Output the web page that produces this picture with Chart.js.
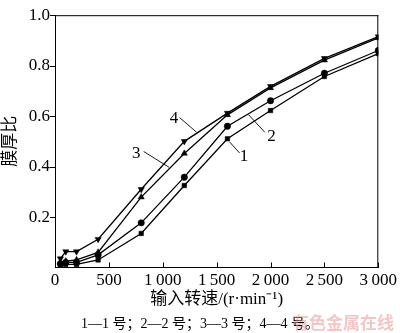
<!DOCTYPE html>
<html>
<head>
<meta charset="utf-8">
<script src="https://cdn.jsdelivr.net/npm/chart.js@4/dist/chart.umd.min.js"></script>
<style>
  html, body { margin: 0; padding: 0; background: #fff; }
  #wrap { position: relative; width: 400px; height: 333px; overflow: hidden; }
  #c { position: absolute; left: 0; top: 0; }
  #caption { position: absolute; left: 0; width: 400px; top: 312px; text-align: center; font-family: "Liberation Serif", "Noto Sans CJK SC", serif; font-size: 14px; color: #000; padding-right: 0px; box-sizing: border-box; }
  #wm { position: absolute; left: 292px; top: 309px; font-family: "Noto Sans CJK SC", sans-serif; font-size: 17px; color: rgba(235, 150, 150, 0.55); font-weight: bold; letter-spacing: 0px; }
</style>
</head>
<body>
<div id="wrap">
  <canvas id="c" width="400" height="333"></canvas>
  <div id="caption">1—1 号；2—2 号；3—3 号；4—4 号。</div>
  <div id="wm">有色金属在线</div>
</div>
<script>
// ---- data ----
const speeds = [50, 100, 200, 400, 800, 1200, 1600, 2000, 2500, 3000];
const series1 = [0.010, 0.012, 0.012, 0.030, 0.135, 0.325, 0.510, 0.622, 0.757, 0.848];
const series2 = [0.015, 0.020, 0.020, 0.050, 0.177, 0.358, 0.560, 0.661, 0.770, 0.860];
const series3 = [0.020, 0.025, 0.030, 0.060, 0.279, 0.452, 0.605, 0.712, 0.822, 0.910];
const series4 = [0.035, 0.063, 0.063, 0.112, 0.310, 0.500, 0.612, 0.718, 0.829, 0.915];
const seriesNames = ['1', '2', '3', '4'];
const xTicks = [0, 500, 1000, 1500, 2000, 2500, 3000];
const xTickLabels = ['0', '500', '1\u2009000', '1\u2009500', '2\u2009000', '2\u2009500', '3\u2009000'];
const yTicks = [0.2, 0.4, 0.6, 0.8, 1.0];
const yTickLabels = ['0.2', '0.4', '0.6', '0.8', '1.0'];
const xTitle = '输入转速/(r·min⁻¹)';
const yTitle = '膜厚比';
// curve labels: [text, labelX, labelY, lineFromX, lineFromY, lineToX, lineToY] (data units)
const curveLabels = [
  ['4', 1105, 0.590, 1157, 0.594, 1314, 0.536],
  ['3', 753, 0.453, 822, 0.460, 1059, 0.397],
  ['2', 2008, 0.520, 1795, 0.606, 1947, 0.536],
  ['1', 1753, 0.440, 1619, 0.498, 1713, 0.454]
];

const serif = '"Liberation Serif", "Noto Sans CJK SC", serif';
const toPts = arr => arr.map((v, i) => ({x: speeds[i], y: v}));
const styles = [
  {pointStyle: 'rect', radius: 3.2, rotation: 0},
  {pointStyle: 'circle', radius: 3.2, rotation: 0},
  {pointStyle: 'triangle', radius: 3.6, rotation: 0},
  {pointStyle: 'triangle', radius: 3.6, rotation: 180}
];
const allSeries = [series1, series2, series3, series4];

const datasets = allSeries.map((s, i) => ({
  label: seriesNames[i],
  data: toPts(s),
  borderColor: '#000',
  backgroundColor: '#000',
  borderWidth: 1.3,
  pointStyle: styles[i].pointStyle,
  pointRadius: styles[i].radius,
  pointRotation: styles[i].rotation,
  pointBorderWidth: 0.5,
  showLine: true,
  tension: 0,
  fill: false
}));

const decorPlugin = {
  id: 'decor',
  afterDraw(chart) {
    const ctx = chart.ctx;
    const {left, right, top, bottom} = chart.chartArea;
    const xs = chart.scales.x, ys = chart.scales.y;
    ctx.save();
    ctx.strokeStyle = '#000';
    ctx.lineWidth = 1;
    // top and right border
    ctx.beginPath();
    ctx.moveTo(left, top + 0.5); ctx.lineTo(right, top + 0.5);
    ctx.moveTo(right - 0.5, top); ctx.lineTo(right - 0.5, bottom);
    ctx.stroke();
    // x ticks inward
    ctx.beginPath();
    xTicks.forEach(v => {
      const px = Math.round(xs.getPixelForValue(v)) + 0.5;
      ctx.moveTo(px, bottom); ctx.lineTo(px, bottom - 5);
    });
    // y ticks outward
    yTicks.forEach(v => {
      const py = Math.round(ys.getPixelForValue(v)) + 0.5;
      ctx.moveTo(left, py); ctx.lineTo(left - 5, py);
    });
    ctx.stroke();
    // curve labels and leader lines
    ctx.font = '17px ' + serif;
    ctx.fillStyle = '#000';
    ctx.textAlign = 'center';
    ctx.textBaseline = 'middle';
    ctx.lineWidth = 0.9;
    curveLabels.forEach(([t, lx, ly, x1, y1, x2, y2]) => {
      ctx.fillText(t, xs.getPixelForValue(lx), ys.getPixelForValue(ly));
      ctx.beginPath();
      ctx.moveTo(xs.getPixelForValue(x1), ys.getPixelForValue(y1));
      ctx.lineTo(xs.getPixelForValue(x2), ys.getPixelForValue(y2));
      ctx.stroke();
    });
    ctx.restore();
  }
};

new Chart(document.getElementById('c'), {
  type: 'scatter',
  data: {datasets},
  options: {
    responsive: false,
    animation: false,
    devicePixelRatio: 1,
    layout: {padding: {left: 0, right: 16.5, top: 5, bottom: 0}},
    plugins: {legend: {display: false}, tooltip: {enabled: false}},
    scales: {
      x: {
        type: 'linear', min: 0, max: 3000,
        afterFit: s => { s.height = 65.5; },
        afterBuildTicks: s => { s.ticks = xTicks.map(v => ({value: v})); },
        grid: {display: true, drawOnChartArea: false, drawTicks: false},
        border: {display: true, color: '#000', width: 1},
        ticks: {
          color: '#000', font: {family: serif, size: 17}, padding: 3, maxRotation: 0, autoSkip: false,
          callback: (v) => { const i = xTicks.indexOf(v); return i >= 0 ? xTickLabels[i] : ''; }
        },
        title: {display: true, text: xTitle, color: '#000', font: {family: serif, size: 17}, padding: {top: 0, bottom: 23}}
      },
      y: {
        type: 'linear', min: 0, max: 1,
        afterFit: s => { s.width = 55; },
        afterBuildTicks: s => { s.ticks = [0].concat(yTicks).map(v => ({value: v})); },
        grid: {display: true, drawOnChartArea: false, drawTicks: false},
        border: {display: true, color: '#000', width: 1},
        ticks: {
          color: '#000', font: {family: serif, size: 17}, padding: 5,
          callback: (v) => { const i = yTicks.findIndex(t => Math.abs(t - v) < 1e-6); return i >= 0 ? yTickLabels[i] : ''; }
        },
        title: {display: true, text: yTitle, color: '#000', font: {family: serif, size: 17}, padding: {top: 0, bottom: 0}}
      }
    }
  },
  plugins: [decorPlugin]
});
</script>
</body>
</html>
